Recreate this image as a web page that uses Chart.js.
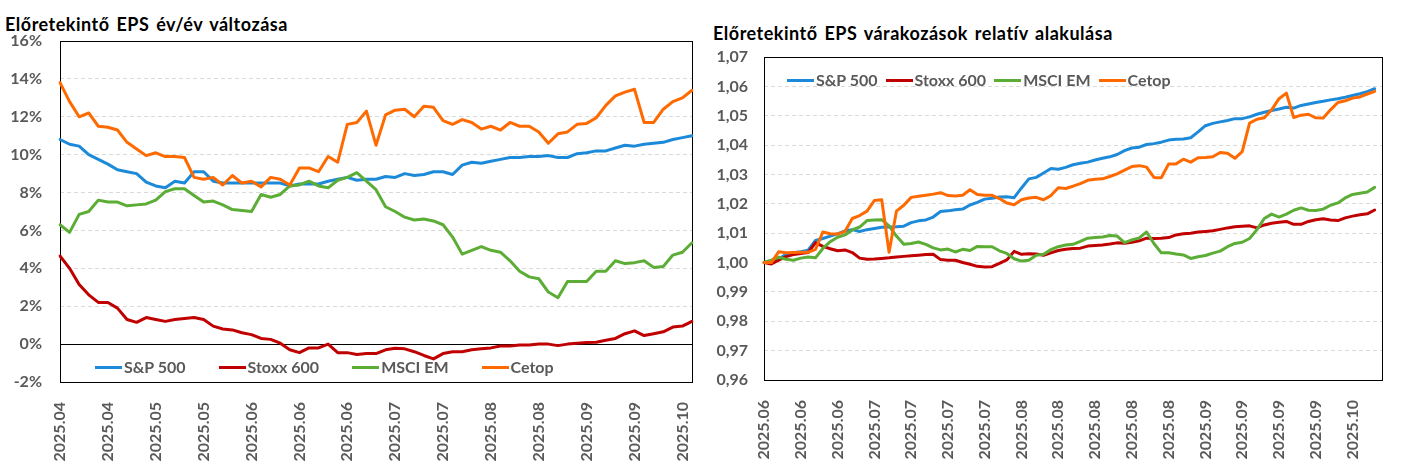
<!DOCTYPE html>
<html><head><meta charset="utf-8">
<script src="https://cdn.jsdelivr.net/npm/chart.js@4.4.0/dist/chart.umd.min.js"></script>
<style>
body{margin:0;background:#fff;width:1407px;height:471px;overflow:hidden;position:relative;font-family:Lato,'Liberation Sans',sans-serif;}
.title{position:absolute;font-weight:bold;color:#000;font-size:18px;letter-spacing:0.5px;word-spacing:2px;white-space:nowrap;line-height:20px;}
canvas{position:absolute;top:0;}
.legend{position:absolute;display:flex;align-items:center;font-weight:bold;font-size:16px;color:#595959;white-space:nowrap;line-height:18px;}
.item{display:flex;align-items:center;}
.sw{width:27px;height:3px;margin-right:2px;}
</style></head><body>
<div class="title" style="left:5px;top:14px">Előretekintő EPS év/év változása</div>
<div class="title" style="left:713px;top:23px">Előretekintő EPS várakozások relatív alakulása</div>
<canvas id="c1" width="700" height="471" style="left:0"></canvas>
<canvas id="c2" width="707" height="471" style="left:700px"></canvas>
<div class="legend" id="l1" style="left:95px;top:358px;gap:33px"></div>
<div class="legend" id="l2" style="left:787px;top:71px;gap:8px"></div>
<script>
// ---------- data ----------
const seriesNames = ['S&P 500', 'Stoxx 600', 'MSCI EM', 'Cetop'];
const seriesColors = ['#1c8ad9', '#c00000', '#5bad35', '#ff6a00'];

// left chart: forward EPS y/y change (%), one point every ~2 business days
const leftTickLabels = ['2025.04','2025.04','2025.05','2025.05','2025.06','2025.06','2025.06','2025.07','2025.07','2025.08','2025.08','2025.09','2025.09','2025.10'];
const leftSP = [10.8,10.55,10.45,10.0,9.75,9.5,9.2,9.1,9.0,8.55, 8.35,8.25,8.6,8.5,9.1,9.1,8.6,8.5,8.5,8.5, 8.5,8.5,8.5,8.5,8.35,8.45,8.45,8.45,8.6,8.7, 8.8,8.65,8.7,8.7,8.85,8.8,9.0,8.9,8.95,9.1, 9.1,8.95,9.45,9.6,9.55,9.65,9.75,9.85,9.85,9.9, 9.9,9.95,9.85,9.85,10.05,10.1,10.2,10.2,10.35,10.5, 10.45,10.55,10.6,10.65,10.8,10.9,11.0];
const leftStoxx = [4.65,4.0,3.15,2.6,2.2,2.2,1.9,1.3,1.15,1.4, 1.3,1.2,1.3,1.35,1.4,1.3,0.95,0.8,0.75,0.6, 0.5,0.3,0.25,0.05,-0.3,-0.45,-0.2,-0.2,0.0,-0.45, -0.45,-0.55,-0.5,-0.5,-0.3,-0.22,-0.25,-0.4,-0.6,-0.78, -0.5,-0.4,-0.4,-0.3,-0.25,-0.2,-0.1,-0.1,-0.05,-0.05, 0.0,0.0,-0.08,0.0,0.05,0.08,0.1,0.2,0.3,0.55, 0.7,0.45,0.55,0.65,0.9,0.95,1.2];
const leftMSCI = [6.3,5.9,6.85,7.0,7.6,7.5,7.5,7.3,7.35,7.4, 7.6,8.05,8.2,8.2,7.85,7.5,7.55,7.35,7.1,7.05, 7.0,7.9,7.75,7.9,8.35,8.4,8.6,8.35,8.25,8.65, 8.8,9.05,8.6,8.15,7.25,7.0,6.7,6.55,6.6,6.5, 6.3,5.65,4.75,4.95,5.15,4.95,4.85,4.4,3.85,3.55, 3.45,2.75,2.45,3.3,3.3,3.3,3.85,3.85,4.4,4.25, 4.3,4.4,4.05,4.1,4.7,4.85,5.35];
const leftCetop = [13.8,12.8,12.0,12.2,11.5,11.45,11.3,10.65,10.3,9.95, 10.1,9.9,9.9,9.85,8.8,8.7,8.8,8.4,8.9,8.5, 8.6,8.3,8.8,8.7,8.4,9.3,9.3,9.1,9.9,9.6, 11.6,11.7,12.3,10.5,12.1,12.35,12.4,12.0,12.55,12.5, 11.8,11.6,11.85,11.7,11.35,11.5,11.3,11.7,11.5,11.5, 11.2,10.6,11.1,11.2,11.6,11.65,11.95,12.6,13.1,13.3, 13.45,11.7,11.7,12.4,12.8,13.0,13.4];

// right chart: relative change of forward EPS expectations, daily
const rightTickLabels = ['2025.06','2025.06','2025.06','2025.07','2025.07','2025.07','2025.07','2025.08','2025.08','2025.08','2025.08','2025.08','2025.09','2025.09','2025.09','2025.09','2025.10'];
const rightSP = [1.0000,1.0005,1.0012,1.0028,1.0033,1.0037,1.0042,1.0075,1.0082,1.0090, 1.0098,1.0108,1.0112,1.0106,1.0112,1.0116,1.0120,1.0121,1.0122,1.0124, 1.0136,1.0142,1.0145,1.0155,1.0174,1.0176,1.0180,1.0182,1.0196,1.0205, 1.0216,1.0219,1.0223,1.0224,1.0221,1.0254,1.0285,1.0290,1.0305,1.0320, 1.0318,1.0324,1.0333,1.0338,1.0342,1.0349,1.0355,1.0360,1.0368,1.0381, 1.0390,1.0393,1.0402,1.0405,1.0410,1.0417,1.0420,1.0421,1.0425,1.0445, 1.0466,1.0474,1.0479,1.0484,1.0490,1.0490,1.0496,1.0505,1.0512,1.0518, 1.0523,1.0529,1.0526,1.0535,1.0540,1.0545,1.0549,1.0554,1.0558,1.0563, 1.0569,1.0575,1.0582,1.0592];
const rightStoxx = [1.0000,0.9995,1.0008,1.0020,1.0027,1.0031,1.0034,1.0068,1.0055,1.0047, 1.0040,1.0043,1.0034,1.0015,1.0011,1.0012,1.0014,1.0016,1.0019,1.0021, 1.0023,1.0025,1.0027,1.0028,1.0010,1.0008,1.0008,1.0000,0.9994,0.9987, 0.9985,0.9986,0.9997,1.0009,1.0038,1.0028,1.0030,1.0029,1.0025,1.0033, 1.0041,1.0045,1.0048,1.0049,1.0056,1.0058,1.0060,1.0063,1.0067,1.0066, 1.0069,1.0074,1.0083,1.0082,1.0083,1.0085,1.0094,1.0098,1.0100,1.0104, 1.0106,1.0108,1.0113,1.0118,1.0122,1.0124,1.0125,1.0118,1.0128,1.0134, 1.0137,1.0140,1.0130,1.0130,1.0140,1.0146,1.0149,1.0145,1.0143,1.0152, 1.0158,1.0163,1.0166,1.0179];
const rightMSCI = [1.0000,1.0008,1.0018,1.0011,1.0008,1.0015,1.0019,1.0016,1.0048,1.0071, 1.0086,1.0094,1.0111,1.0121,1.0143,1.0145,1.0146,1.0125,1.0090,1.0062, 1.0065,1.0070,1.0062,1.0050,1.0043,1.0046,1.0036,1.0045,1.0041,1.0055, 1.0054,1.0054,1.0040,1.0031,1.0013,1.0005,1.0008,1.0025,1.0028,1.0044, 1.0054,1.0060,1.0062,1.0072,1.0083,1.0085,1.0087,1.0092,1.0090,1.0068, 1.0077,1.0084,1.0104,1.0065,1.0033,1.0033,1.0029,1.0026,1.0014,1.0020, 1.0024,1.0032,1.0039,1.0054,1.0065,1.0069,1.0082,1.0112,1.0150,1.0165, 1.0155,1.0165,1.0178,1.0186,1.0178,1.0177,1.0182,1.0195,1.0203,1.0220, 1.0232,1.0236,1.0240,1.0256];
const rightCetop = [1.0000,1.0000,1.0037,1.0033,1.0034,1.0035,1.0035,1.0045,1.0104,1.0098, 1.0097,1.0106,1.0150,1.0160,1.0175,1.0211,1.0214,1.0035,1.0175,1.0195, 1.0222,1.0226,1.0229,1.0233,1.0238,1.0228,1.0227,1.0229,1.0248,1.0232, 1.0229,1.0229,1.0218,1.0203,1.0197,1.0214,1.0220,1.0222,1.0214,1.0228, 1.0255,1.0252,1.0260,1.0269,1.0280,1.0284,1.0285,1.0293,1.0302,1.0315, 1.0327,1.0330,1.0325,1.0290,1.0289,1.0336,1.0336,1.0352,1.0342,1.0357, 1.0358,1.0360,1.0375,1.0372,1.0355,1.0378,1.0475,1.0488,1.0493,1.0520, 1.0558,1.0577,1.0494,1.0502,1.0505,1.0493,1.0492,1.0520,1.0545,1.0551, 1.0560,1.0564,1.0574,1.0583];

// ---------- helpers ----------
function buildLabels(tickLabels, every, count) {
  const out = [];
  for (let i = 0; i < count; i++) out.push(i % every === 0 && tickLabels[i / every] ? tickLabels[i / every] : '');
  return out;
}
function buildDatasets(arrs) {
  return arrs.map((d, k) => ({
    label: seriesNames[k], data: d, borderColor: seriesColors[k], backgroundColor: seriesColors[k],
    borderWidth: 3, pointRadius: 0, pointHoverRadius: 0, tension: 0, fill: false, order: 4 - k,
    borderJoinStyle: 'round', borderCapStyle: 'round'
  }));
}
function buildLegend(id) {
  const el = document.getElementById(id);
  seriesNames.forEach((n, k) => {
    const it = document.createElement('div'); it.className = 'item';
    const sw = document.createElement('div'); sw.className = 'sw'; sw.style.background = seriesColors[k];
    const tx = document.createElement('span'); tx.textContent = n;
    it.appendChild(sw); it.appendChild(tx); el.appendChild(it);
  });
}

const framePlugin = {
  id: 'frame',
  beforeDatasetsDraw(chart, args, opts) {
    const { ctx, chartArea: a, scales } = chart;
    ctx.save();
    ctx.strokeStyle = '#000'; ctx.lineWidth = 1;
    if (opts.zero) {
      const py = Math.round(scales.y.getPixelForValue(0)) + 0.5;
      ctx.beginPath(); ctx.moveTo(a.left, py); ctx.lineTo(a.right, py); ctx.stroke();
    }
    ctx.strokeRect(Math.round(a.left) + 0.5, Math.round(a.top) + 0.5, Math.round(a.right - a.left), Math.round(a.bottom - a.top));
    ctx.restore();
  }
};

Chart.defaults.font.family = "Lato, 'Liberation Sans', sans-serif";
Chart.defaults.font.size = 16;
Chart.defaults.font.weight = 'bold';
Chart.defaults.color = '#595959';
Chart.defaults.animation = false;

function makeChart(canvasId, labels, arrs, cfg) {
  return new Chart(document.getElementById(canvasId), {
    type: 'line',
    data: { labels: labels, datasets: buildDatasets(arrs) },
    options: {
      responsive: false, animation: false, events: [],
      layout: { padding: { top: cfg.top, right: cfg.right, left: 0, bottom: 0 } },
      plugins: { legend: { display: false }, tooltip: { enabled: false }, frame: { zero: cfg.zero } },
      scales: {
        x: {
          type: 'category', offset: false,
          grid: { display: false }, border: { display: false },
          ticks: { autoSkip: false, maxRotation: 90, minRotation: 90, padding: 12 },
          afterFit(s) { s.height = cfg.xh; s.paddingLeft = 0; s.paddingRight = 0; }
        },
        y: {
          min: cfg.min, max: cfg.max,
          grid: { color: c => (cfg.zero && c.tick && c.tick.value === 0) ? 'rgba(0,0,0,0)' : '#d9d9d9', lineWidth: 1, drawTicks: false },
          border: { display: false, dash: [4, 3] },
          ticks: { stepSize: cfg.step, padding: cfg.pad, callback: cfg.fmt },
          afterFit(s) { s.width = cfg.yw; s.paddingTop = 0; s.paddingBottom = 0; }
        }
      }
    },
    plugins: [framePlugin]
  });
}

const leftLabels = buildLabels(leftTickLabels, 5, leftSP.length);
makeChart('c1', leftLabels, [leftSP, leftStoxx, leftMSCI, leftCetop], {
  top: 41, right: 8, xh: 89, yw: 60, pad: 18, min: -2, max: 16, step: 2, zero: true,
  fmt: v => Math.round(v) + '%'
});

const rightLabels = buildLabels(rightTickLabels, 5, rightSP.length + 1);
makeChart('c2', rightLabels, [rightSP, rightStoxx, rightMSCI, rightCetop], {
  top: 57, right: 25, xh: 91, yw: 64, pad: 16, min: 0.96, max: 1.07, step: 0.01, zero: false,
  fmt: v => v.toFixed(2).replace('.', ',')
});

buildLegend('l1');
buildLegend('l2');
</script>
</body></html>
